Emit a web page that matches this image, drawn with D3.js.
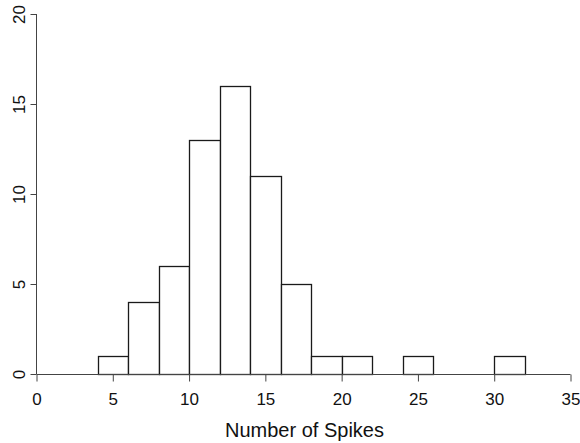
<!DOCTYPE html>
<html>
<head>
<meta charset="utf-8">
<script src="https://cdn.jsdelivr.net/npm/d3@7"></script>
<style>
  html, body { margin: 0; padding: 0; background: #fff; }
  svg { display: block; font-family: "Liberation Sans", Arial, Helvetica, sans-serif; }
</style>
</head>
<body>
<svg id="chart" width="580" height="443"></svg>
<script>
// Histogram of spike counts, bins of width 2
const binStarts = [4, 6, 8, 10, 12, 14, 16, 18, 20, 22, 24, 26, 28, 30];
const binWidth = 2;
const counts = [1, 4, 6, 13, 16, 11, 5, 1, 1, 0, 1, 0, 0, 1];
const xTicks = [0, 5, 10, 15, 20, 25, 30, 35];
const yTicks = [0, 5, 10, 15, 20];
const xTitle = "Number of Spikes";

const svg = d3.select("#chart");
const x = d3.scaleLinear().domain([0, 35]).range([36.5, 570.5]);
const y = d3.scaleLinear().domain([0, 20]).range([374, 14]);

const bins = binStarts.map((s, i) => ({ x0: s, x1: s + binWidth, n: counts[i] }));

// bars (zero-height bins drawn as a flat line on the baseline)
svg.append("g")
  .selectAll("rect")
  .data(bins)
  .join("rect")
  .attr("x", d => Math.round(x(d.x0)) + 0.5)
  .attr("y", d => Math.round(y(d.n)) + 0.5)
  .attr("width", d => Math.round(x(d.x1)) - Math.round(x(d.x0)))
  .attr("height", d => Math.round(y(0)) - Math.round(y(d.n)))
  .attr("fill", "#fff")
  .attr("stroke", "#1a1a1a")
  .attr("stroke-width", 1.3);

const fontFam = "Liberation Sans, Arial, sans-serif";

// x axis
const xAxis = svg.append("g")
  .attr("transform", `translate(0,${Math.round(y(0)) + 0.5})`)
  .call(d3.axisBottom(x).tickValues(xTicks).tickSize(7).tickFormat(d3.format("d")));
xAxis.select(".domain").attr("d", `M${x(0)},0H${x(35)}`).attr("stroke", "#444");
xAxis.selectAll(".tick line").attr("stroke", "#444");
xAxis.selectAll(".tick text")
  .attr("font-size", 17).attr("fill", "#111")
  .attr("font-family", fontFam)
  .attr("y", 30.5).attr("dy", null);

// y axis with rotated labels
const yAxis = svg.append("g")
  .attr("transform", `translate(${x(0)},0)`)
  .call(d3.axisLeft(y).tickValues(yTicks).tickSize(6).tickFormat(d3.format("d")));
yAxis.select(".domain").attr("d", `M0,${y(0)}V${y(20)}`).attr("stroke", "#444");
yAxis.selectAll(".tick line").attr("stroke", "#444");
yAxis.selectAll(".tick text")
  .attr("font-size", 17).attr("fill", "#111")
  .attr("font-family", fontFam)
  .attr("x", null).attr("dy", null)
  .attr("text-anchor", "middle")
  .attr("transform", "translate(-12,0) rotate(-90)");

// axis title
svg.append("text")
  .attr("x", 304.5)
  .attr("y", 437)
  .attr("text-anchor", "middle")
  .attr("font-size", 20)
  .attr("font-family", fontFam)
  .attr("fill", "#111")
  .text(xTitle);
</script>
</body>
</html>
